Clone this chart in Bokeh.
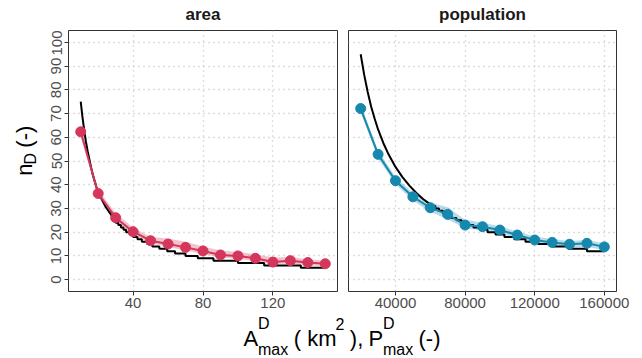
import math
from bokeh.plotting import figure
from bokeh.layouts import column, row
from bokeh.models import Range1d, FixedTicker, Label, BasicTickFormatter
from bokeh.embed import file_html
from bokeh.resources import INLINE

# ---------------- data ----------------
area_x = [10, 20, 30, 40, 50, 60, 70, 80, 90, 100, 110, 120, 130, 140, 150]
area_n = [62.3, 36.3, 26.1, 20.2, 16.4, 15.0, 13.6, 12.1, 10.4, 10.0, 9.0, 7.4, 8.0, 7.2, 6.7]
area_lo = [60.0, 34.8, 24.8, 19.0, 15.3, 13.8, 12.3, 10.8, 9.3, 8.8, 7.8, 6.5, 6.8, 6.0, 5.6]
area_hi = [64.5, 38.0, 28.0, 22.0, 18.0, 17.3, 16.0, 14.0, 12.3, 11.7, 10.7, 9.3, 9.5, 8.6, 8.0]

pop_x = [20000, 30000, 40000, 50000, 60000, 70000, 80000, 90000, 100000,
         110000, 120000, 130000, 140000, 150000, 160000]
pop_n = [72.1, 52.8, 41.7, 34.9, 30.3, 27.5, 23.0, 22.3, 20.9, 18.8, 16.7, 15.7, 14.9, 15.3, 13.8]
pop_lo = [70.5, 51.2, 40.2, 33.3, 28.5, 25.5, 21.6, 20.8, 19.5, 17.4, 15.4, 14.4, 13.6, 13.8, 12.5]
pop_hi = [73.8, 54.4, 43.3, 36.6, 32.5, 30.5, 25.2, 24.0, 22.5, 20.3, 18.2, 17.1, 16.3, 16.8, 15.3]

# reference curve (black): smooth part, then integer steps (start x, level)
area_curve_x = [10, 11, 12, 13, 14, 15, 16, 17, 18, 19, 20, 22, 24, 26, 28, 30]
area_curve_y = [75, 68.5, 63, 58, 54, 50.5, 47, 44, 41.5, 39, 37, 34, 31, 28.8, 26.8, 25]
area_step_x = [30, 31.5, 33, 34.5, 36, 38, 40, 42.5, 45, 48, 51, 55, 59.5, 64, 70, 77, 86, 100, 115, 136]
area_step_y = [24, 23, 22, 21, 20, 19, 18, 17, 16, 15, 14, 13, 12, 11, 10, 9, 8, 7, 6, 5]
area_end = 150

pop_curve_x = [20000, 22000, 24000, 26000, 28000, 30000, 33000, 36000, 40000,
               44000, 48000, 52000, 56000, 60000]
pop_curve_y = [95, 86.4, 79.2, 73, 67.9, 63.3, 57.6, 52.8, 47.5, 43.2, 39.6, 36.5, 33.9, 31.7]
pop_step_x = [60000, 62900, 65000, 67200, 69600, 72200, 75000, 78000, 81250, 84800,
              88600, 92900, 97500, 102600, 108300, 114700, 121900, 130000, 139300, 150000]
pop_step_y = [31, 30, 29, 28, 27, 26, 25, 24, 23, 22, 21, 20, 19, 18, 17, 16, 15, 14, 13, 12]
pop_end = 160000

panel_titles = ["area", "population"]
y_ticks = [0, 10, 20, 30, 40, 50, 60, 70, 80, 90, 100]
area_ticks = [40, 80, 120]
pop_ticks = [40000, 80000, 120000, 160000]

RED = "#D5365B"
BLUE = "#1688AE"
FONT = "Liberation Sans"

TOP_H = 30      # strip with panel titles
PANEL_H = 284   # panels (frame 30..291 in page px)
BOT_H = 44      # strip with x-axis title (page px 314..358)


def staircase(cx, cy, sx, sy, end):
    xs = list(cx)
    ys = list(cy)
    for i in range(len(sx)):
        nxt = sx[i + 1] if i + 1 < len(sx) else end
        xs += [sx[i], nxt]
        ys += [sy[i], sy[i]]
    return xs, ys


def blank(width, height):
    p = figure(width=width, height=height, x_range=Range1d(0, width), y_range=Range1d(0, height),
               min_border=0, x_axis_location=None, y_axis_location=None,
               toolbar_location=None, output_backend="svg")
    p.outline_line_color = None
    p.grid.visible = False
    p.border_fill_color = "white"
    p.background_fill_color = "white"
    return p


def panel(width, border_left, border_right, xr, xticks, with_yaxis):
    p = figure(width=width, height=PANEL_H, x_range=xr, y_range=Range1d(-5, 105),
               min_border_left=border_left, min_border_right=border_right,
               min_border_top=0, min_border_bottom=PANEL_H - 261,
               toolbar_location=None, output_backend="svg",
               y_axis_location="left" if with_yaxis else None)
    p.outline_line_color = "#333333"
    p.outline_line_width = 1
    p.xgrid.ticker = FixedTicker(ticks=xticks)
    p.ygrid.ticker = FixedTicker(ticks=y_ticks)
    p.grid.grid_line_color = "#BDBDBD"
    p.grid.grid_line_dash = "1 4"
    p.grid.grid_line_width = 1.3
    axes = list(p.xaxis) + (list(p.yaxis) if with_yaxis else [])
    for ax in axes:
        ax.axis_line_color = None
        ax.major_tick_line_color = "#333333"
        ax.major_tick_out = 4
        ax.major_tick_in = 0
        ax.minor_tick_line_color = None
        ax.major_label_text_font = FONT
        ax.major_label_text_font_size = "15px"
        ax.major_label_text_color = "#4D4D4D"
        ax.major_label_standoff = 2
    p.xaxis[0].ticker = FixedTicker(ticks=xticks)
    p.xaxis[0].formatter = BasicTickFormatter(use_scientific=False)
    if with_yaxis:
        p.yaxis[0].ticker = FixedTicker(ticks=y_ticks)
        p.yaxis[0].major_label_orientation = "vertical"
        p.yaxis[0].major_label_standoff = 3
    return p


p1 = panel(302, 28, 5, Range1d(3, 157), area_ticks, True)
p2 = panel(300, 6, 26, Range1d(13000, 167000), pop_ticks, False)

for p, xs, ys, lo, hi, cx, cy, sx, sy, end, col in [
    (p1, area_x, area_n, area_lo, area_hi, area_curve_x, area_curve_y, area_step_x, area_step_y, area_end, RED),
    (p2, pop_x, pop_n, pop_lo, pop_hi, pop_curve_x, pop_curve_y, pop_step_x, pop_step_y, pop_end, BLUE),
]:
    p.varea(x=xs, y1=lo, y2=hi, fill_color=col, fill_alpha=0.3)
    bx, by = staircase(cx, cy, sx, sy, end)
    p.line(bx, by, line_color="black", line_width=2)
    p.line(xs, ys, line_color=col, line_width=2)
    p.scatter(xs, ys, size=10, fill_color=col, line_color=col)


def mid(baseline, size):
    # vertical centre of the text box for a wanted baseline (page px)
    return baseline - 0.34 * size


# top strip: panel titles (page y 0..30)
top = blank(642, TOP_H)
for t, cx in [(panel_titles[0], 202.5), (panel_titles[1], 482)]:
    top.add_layout(Label(x=cx, y=TOP_H - mid(20, 17), text=t, text_align="center",
                         text_baseline="middle", text_font=FONT, text_font_size="17px",
                         text_font_style="bold", text_color="#1A1A1A"))

# left strip: y axis title  n_D (-)   (page y 30..314), text rotated to read upward
left = blank(40, PANEL_H)
ang = math.pi / 2
y0 = TOP_H + PANEL_H
for txt, base_x, start_y, size in [("n", 31, 188, 22), ("D", 35, 175.8, 16), ("(-)", 31, 157.5, 22)]:
    left.add_layout(Label(x=base_x - 0.34 * size, y=y0 - start_y, text=txt, angle=ang,
                          text_align="left", text_baseline="middle", text_font=FONT,
                          text_font_size=f"{size}px", text_color="black"))

# bottom strip: x axis title (page y 314..358)
bottom = blank(642, BOT_H)
y_top = TOP_H + PANEL_H
MAIN, SUP, SUB = 345, 328.5, 354.5
pieces = [
    ("A", 243, MAIN, 22),
    ("D", 257.5, SUP, 16),
    ("max", 257.5, SUB, 16),
    ("( km", 293.3, MAIN, 22),
    ("2", 335, SUP, 16),
    ("),", 349.3, MAIN, 22),
    ("P", 368, MAIN, 22),
    ("D", 382.5, SUP, 16),
    ("max", 382.5, SUB, 16),
    ("(-)", 418, MAIN, 22),
]
for txt, x, base, size in pieces:
    bottom.add_layout(Label(x=x, y=BOT_H - (mid(base, size) - y_top), text=txt, text_align="left",
                            text_baseline="middle", text_font=FONT, text_font_size=f"{size}px",
                            text_color="black"))

layout = column(top, row(left, p1, p2), bottom)
open("out.html", "w").write(file_html(layout, INLINE))
